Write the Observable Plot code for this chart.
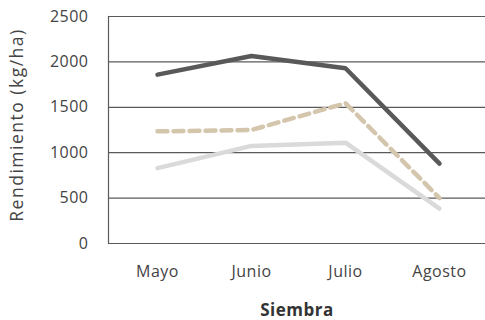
<!DOCTYPE html>
<html>
<head>
<meta charset="utf-8">
<script src="https://cdn.jsdelivr.net/npm/d3@7"></script>
<script src="https://cdn.jsdelivr.net/npm/@observablehq/plot@0.6"></script>
<style>
  html, body { margin: 0; padding: 0; background: #fff; }
  #chart svg { display: block; }
</style>
</head>
<body>
<div id="chart"></div>
<script>
// Sowing month (Siembra) and yield in kg/ha for three series
const months = ["Mayo", "Junio", "Julio", "Agosto"];
const yieldHigh = [1860, 2065, 1930, 880];
const yieldMid = [1235, 1250, 1545, 500];
const yieldLow = [830, 1075, 1110, 385];
const yTicks = [0, 500, 1000, 1500, 2000, 2500];

const toRows = (values) => months.map((m, i) => ({month: m, value: values[i]}));

const font = "'Open Sans', Roboto, sans-serif";

const chart = Plot.plot({
  width: 485,
  height: 320,
  marginLeft: 108,
  marginRight: 0,
  marginTop: 16,
  marginBottom: 77,
  style: {fontFamily: font, fontSize: "16px", color: "#444", background: "#fff", letterSpacing: "0.5px"},
  x: {type: "point", domain: months, range: [110, 486], label: null},
  y: {domain: [0, 2500], ticks: yTicks, label: null},
  marks: [
    Plot.ruleY(yTicks, {stroke: "#5a5a5a", strokeWidth: 1.2}),
    Plot.frame({anchor: "left", stroke: "#5a5a5a", strokeWidth: 1.2}),
    Plot.axisY({ticks: yTicks, tickSize: 0, tickPadding: 20, tickFormat: d3.format("d"), label: null, fontSize: 16}),
    Plot.axisX({tickSize: 0, tickPadding: 22, label: null, fontSize: 16}),
    Plot.line(toRows(yieldLow), {x: "month", y: "value", stroke: "#dadada", strokeWidth: 4.5, strokeLinejoin: "miter"}),
    Plot.line(toRows(yieldMid), {x: "month", y: "value", stroke: "#d4c6ad", strokeWidth: 4.5, strokeDasharray: "10,6", strokeLinejoin: "miter"}),
    Plot.line(toRows(yieldHigh), {x: "month", y: "value", stroke: "#595959", strokeWidth: 4.5, strokeLinejoin: "miter"}),
    Plot.text(["Rendimiento (kg/ha)"], {frameAnchor: "left", dx: -91, dy: -5, rotate: -90, textAnchor: "middle", text: d => d, fontSize: 17.5, fill: "#444"}),
    Plot.text(["Siembra"], {frameAnchor: "bottom", dy: 72, textAnchor: "middle", text: d => d, fontSize: 17, fontWeight: "bold", fill: "#333"})
  ]
});

// Wider tracking on the vertical axis title
chart.querySelectorAll("text").forEach(t => {
  if (t.textContent === "Rendimiento (kg/ha)") t.setAttribute("letter-spacing", "1.5");
});

document.getElementById("chart").appendChild(chart);
</script>
</body>
</html>
